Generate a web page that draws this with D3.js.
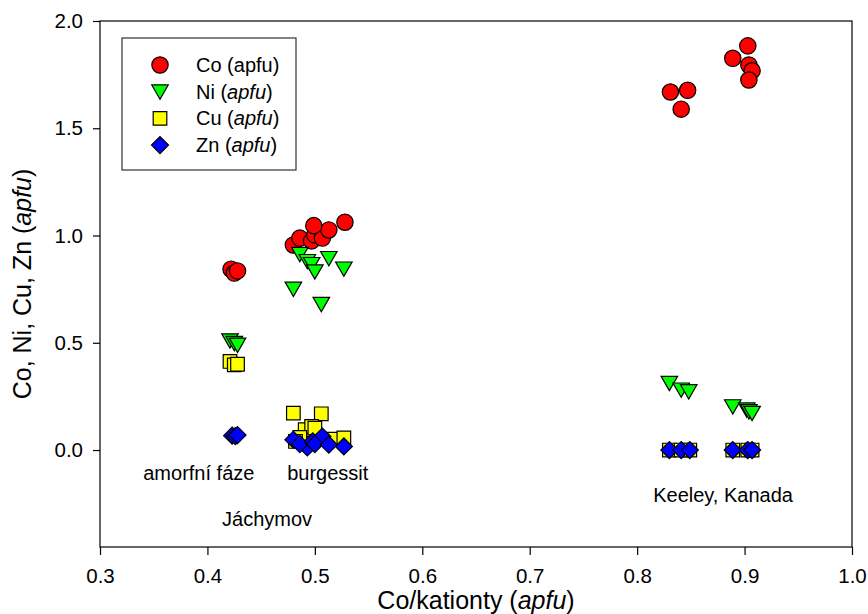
<!DOCTYPE html>
<html>
<head>
<meta charset="utf-8">
<script src="https://cdn.jsdelivr.net/npm/d3@7"></script>
<style>
  body { margin: 0; background: #fff; }
  text { font-family: Arial, "Liberation Sans", sans-serif; fill: #000; }
</style>
</head>
<body>
<div id="chart"></div>
<script>
// Co/kationty values (x) and element contents (y), apfu
const coX = [0.422, 0.425, 0.428, 0.480, 0.486, 0.497, 0.500, 0.507, 0.513, 0.499, 0.528,
             0.831, 0.847, 0.841, 0.889, 0.903, 0.904, 0.907, 0.904];
const coY = [0.843, 0.825, 0.835, 0.956, 0.988, 0.975, 1.003, 0.988, 1.026, 1.046, 1.062,
             1.669, 1.677, 1.589, 1.826, 1.884, 1.795, 1.768, 1.725];

const niX = [0.421, 0.425, 0.428, 0.486, 0.493, 0.497, 0.500, 0.513, 0.527, 0.480, 0.506,
             0.830, 0.841, 0.848, 0.889, 0.902, 0.904, 0.907];
const niY = [0.510, 0.498, 0.490, 0.913, 0.880, 0.866, 0.832, 0.894, 0.845, 0.751, 0.680,
             0.312, 0.281, 0.273, 0.203, 0.188, 0.180, 0.172];

const cuX = [0.421, 0.425, 0.428, 0.480, 0.506, 0.491, 0.497, 0.500, 0.486, 0.482, 0.516, 0.527,
             0.830, 0.841, 0.849, 0.889, 0.903, 0.907];
const cuY = [0.413, 0.397, 0.400, 0.172, 0.169, 0.095, 0.110, 0.102, 0.059, 0.040, 0.051, 0.056,
             0.000, 0.000, 0.000, 0.000, 0.000, 0.000];

const znX = [0.423, 0.426, 0.428, 0.493, 0.480, 0.486, 0.498, 0.507, 0.500, 0.513, 0.527,
             0.830, 0.841, 0.849, 0.889, 0.903, 0.907];
const znY = [0.067, 0.065, 0.070, 0.012, 0.048, 0.028, 0.040, 0.063, 0.028, 0.025, 0.017,
             0.000, 0.000, 0.000, 0.000, 0.000, 0.000];

const xTicks = [0.3, 0.4, 0.5, 0.6, 0.7, 0.8, 0.9, 1.0];
const yTicks = [0.0, 0.5, 1.0, 1.5, 2.0];

const seriesNames = ["Co", "Ni", "Cu", "Zn"];
const seriesColors = ["#ff0000", "#00ff00", "#ffff00", "#0000ff"];

const labels = [
  { text: "amorfní fáze", x: 0.392, y: -0.138 },
  { text: "burgessit", x: 0.512, y: -0.138 },
  { text: "Jáchymov", x: 0.4555, y: -0.356 },
  { text: "Keeley, Kanada", x: 0.880, y: -0.241 }
];

const width = 868, height = 614;
const margin = { top: 21, right: 16, bottom: 67, left: 100 };
const w = width - margin.left - margin.right;
const h = height - margin.top - margin.bottom;

const svg = d3
  .select("#chart")
  .append("svg")
  .attr("width", width)
  .attr("height", height);

const chart = svg
  .append("g")
  .attr("transform", `translate(${margin.left},${margin.top})`);

const xScale = d3.scaleLinear().domain([0.3, 1.0]).range([0, w]);
const yScale = d3.scaleLinear().domain([-0.452, 2.0]).range([h, 0]);

// frame
chart
  .append("rect")
  .attr("width", w)
  .attr("height", h)
  .attr("fill", "none")
  .attr("stroke", "#000")
  .attr("stroke-width", 1.2);

// x axis
const xAxis = chart
  .append("g")
  .attr("transform", `translate(0,${h})`)
  .call(
    d3.axisBottom(xScale)
      .tickValues(xTicks)
      .tickSize(8)
      .tickPadding(13)
      .tickFormat(d3.format(".1f"))
  );
xAxis.select(".domain").remove();
xAxis.selectAll("text").style("font-size", "20.5px");

// y axis
const yAxis = chart
  .append("g")
  .call(
    d3.axisLeft(yScale)
      .tickValues(yTicks)
      .tickSize(7)
      .tickPadding(10)
      .tickFormat(d3.format(".1f"))
  );
yAxis.select(".domain").remove();
yAxis.selectAll("text").style("font-size", "20.5px");
chart.selectAll(".tick line").attr("stroke-width", 1.2);

// axis titles
const xTitle = svg
  .append("text")
  .attr("x", margin.left + w / 2)
  .attr("y", 609)
  .attr("text-anchor", "middle")
  .style("font-size", "25px");
xTitle.append("tspan").text("Co/kationty (");
xTitle.append("tspan").style("font-style", "italic").text("apfu");
xTitle.append("tspan").text(")");

const yTitle = svg
  .append("text")
  .attr("transform", `translate(31,${margin.top + h / 2}) rotate(-90)`)
  .attr("text-anchor", "middle")
  .style("font-size", "25px");
yTitle.append("tspan").text("Co, Ni, Cu, Zn (");
yTitle.append("tspan").style("font-style", "italic").text("apfu");
yTitle.append("tspan").text(")");

// symbols
const symbolPath = [
  d3.symbol().type(d3.symbolCircle).size(210)(),
  d3.symbol().type(d3.symbolTriangle).size(118)(),
  d3.symbol().type(d3.symbolSquare).size(185)(),
  d3.symbol().type(d3.symbolSquare).size(145)()
];
const symbolRotate = [0, 180, 0, 45];
const triangleShift = 2; // centre the down-pointing triangle on its value

const series = [
  coX.map((x, i) => ({ x, y: coY[i] })),
  niX.map((x, i) => ({ x, y: niY[i] })),
  cuX.map((x, i) => ({ x, y: cuY[i] })),
  znX.map((x, i) => ({ x, y: znY[i] }))
];

series.forEach((data, k) => {
  chart
    .append("g")
    .selectAll("path")
    .data(data)
    .enter()
    .append("path")
    .attr("d", symbolPath[k])
    .attr("transform", d =>
      `translate(${xScale(d.x)},${yScale(d.y) + (k === 1 ? -triangleShift : 0)}) rotate(${symbolRotate[k]})`)
    .attr("fill", seriesColors[k])
    .attr("stroke", "#000")
    .attr("stroke-width", 1.2);
});

// annotations
chart
  .selectAll(".note")
  .data(labels)
  .enter()
  .append("text")
  .attr("class", "note")
  .attr("x", d => xScale(d.x))
  .attr("y", d => yScale(d.y))
  .attr("text-anchor", "middle")
  .style("font-size", "20px")
  .text(d => d.text);

// legend
const legend = svg.append("g").attr("transform", "translate(122,38)");
legend
  .append("rect")
  .attr("width", 174)
  .attr("height", 132)
  .attr("fill", "#fff")
  .attr("stroke", "#333")
  .attr("stroke-width", 1.2);

seriesNames.forEach((name, k) => {
  const ly = 27 + k * 26.7;
  legend
    .append("path")
    .attr("d", symbolPath[k])
    .attr("transform", `translate(38,${ly + (k === 1 ? -triangleShift : 0)}) rotate(${symbolRotate[k]})`)
    .attr("fill", seriesColors[k])
    .attr("stroke", "#000")
    .attr("stroke-width", 1.2);
  const t = legend
    .append("text")
    .attr("x", 74)
    .attr("y", ly + 7)
    .style("font-size", "20px");
  t.append("tspan").text(name + " (");
  t.append("tspan").style("font-style", k === 0 ? "normal" : "italic").text("apfu");
  t.append("tspan").text(")");
});
</script>
</body>
</html>
